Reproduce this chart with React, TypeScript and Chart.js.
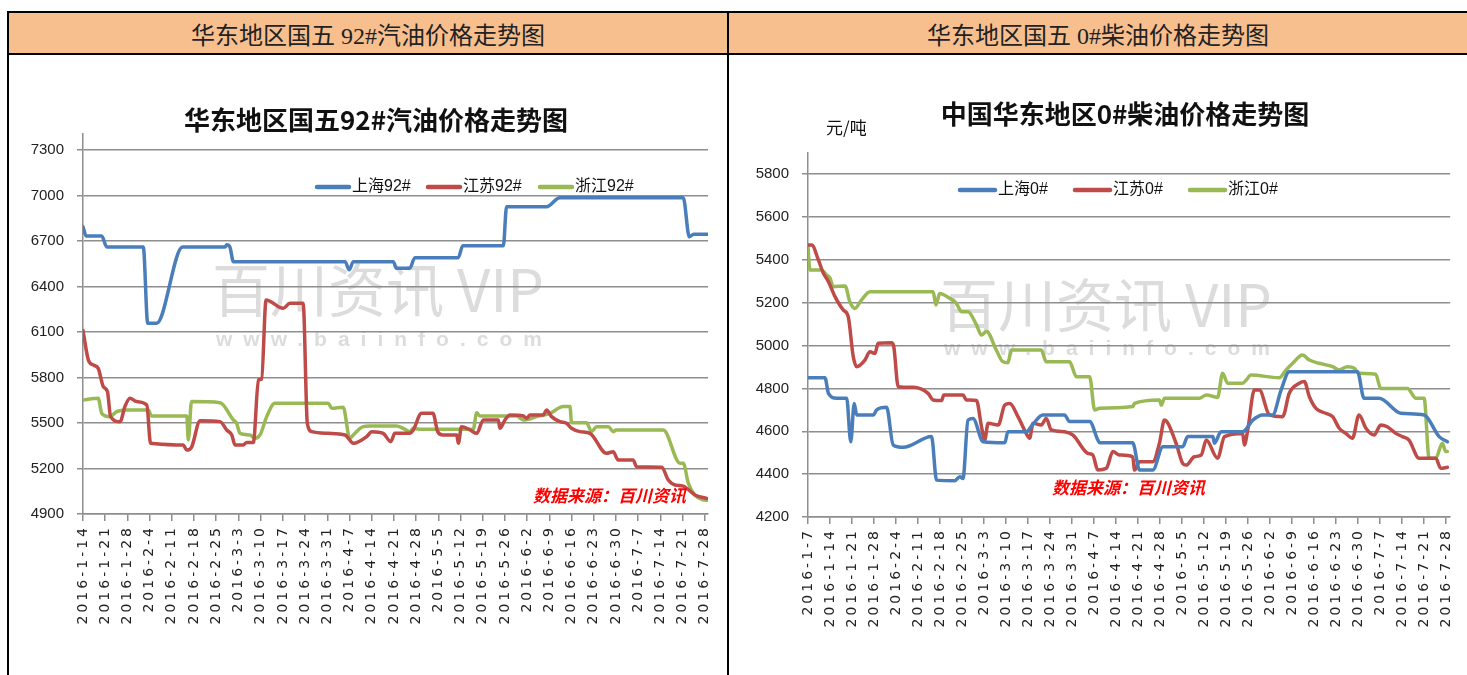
import React, { useEffect, useRef } from "react";
import { Chart, registerables } from "chart.js";

Chart.register(...registerables);

// ---------------- DATA ----------------
// Tick labels (one per week)
const gasolineWeeks = [
  "2016-1-14", "2016-1-21", "2016-1-28", "2016-2-4", "2016-2-11", "2016-2-18", "2016-2-25",
  "2016-3-3", "2016-3-10", "2016-3-17", "2016-3-24", "2016-3-31", "2016-4-7", "2016-4-14",
  "2016-4-21", "2016-4-28", "2016-5-5", "2016-5-12", "2016-5-19", "2016-5-26", "2016-6-2",
  "2016-6-9", "2016-6-16", "2016-6-23", "2016-6-30", "2016-7-7", "2016-7-14", "2016-7-21",
  "2016-7-28",
];
const dieselWeeks = [
  "2016-1-7", "2016-1-14", "2016-1-21", "2016-1-28", "2016-2-4", "2016-2-11", "2016-2-18",
  "2016-2-25", "2016-3-3", "2016-3-10", "2016-3-17", "2016-3-24", "2016-3-31", "2016-4-7",
  "2016-4-14", "2016-4-21", "2016-4-28", "2016-5-5", "2016-5-12", "2016-5-19", "2016-5-26",
  "2016-6-2", "2016-6-9", "2016-6-16", "2016-6-23", "2016-6-30", "2016-7-7", "2016-7-14",
  "2016-7-21", "2016-7-28",
];

// Series: [day offset from first tick date, price 元/吨]
const shanghai92: [number, number][] = [
  [0, 6794], [1, 6733], [5.9, 6733], [7.5, 6660], [19, 6660], [20.4, 6157], [23.2, 6157],
  [31.4, 6660], [44.8, 6660], [45.3, 6675], [46.3, 6660], [47.4, 6564], [82.6, 6564],
  [83.9, 6510], [85.2, 6564], [97.8, 6564], [98.8, 6520], [103, 6520], [104.6, 6590],
  [118.3, 6590], [119.7, 6669], [132.5, 6669], [133.5, 6926], [146.1, 6926], [150.3, 6985],
  [189.2, 6985], [191.1, 6728], [192.5, 6745], [197, 6745],
];
const jiangsu92: [number, number][] = [
  [0, 6110], [1.7, 5915], [3.3, 5882], [4.8, 5860], [6.4, 5740], [7.7, 5707], [8.7, 5542],
  [11.7, 5509], [13.2, 5608], [14.8, 5663], [16.9, 5641], [20.1, 5619], [21.3, 5366],
  [31.6, 5355], [32.7, 5322], [34.2, 5340], [36.9, 5515], [43.2, 5509], [45.3, 5454],
  [46.9, 5421], [47.9, 5355], [50.5, 5355], [51.6, 5372], [53.7, 5372], [55.3, 5784],
  [56.3, 5790], [57.7, 6311], [63.1, 6256], [65.2, 6289], [69.4, 6289], [70.7, 5498],
  [72.1, 5443], [77.3, 5432], [82.6, 5421], [85.2, 5366], [89.4, 5410], [91, 5443],
  [94.6, 5432], [97, 5377], [98.3, 5432], [103, 5432], [104.1, 5454], [106.7, 5564],
  [110.3, 5564], [111.8, 5443], [113.4, 5421], [117.8, 5421], [118.3, 5366], [119.3, 5476],
  [122, 5454], [124.1, 5432], [126.2, 5520], [130.9, 5520], [131.4, 5465], [133, 5520],
  [134.6, 5553], [138.8, 5546], [139.8, 5531], [140.9, 5553], [145.1, 5553], [146.1, 5586],
  [147.7, 5542], [150.3, 5509], [152.4, 5498], [154, 5465], [156.6, 5443], [159.8, 5432],
  [165, 5300], [167.1, 5311], [168.7, 5256], [173.4, 5256], [174.5, 5212], [182.4, 5208],
  [184.5, 5124], [186.6, 5091], [189.2, 5084], [192.9, 5025], [196.6, 5003],
];
const zhejiang92: [number, number][] = [
  [0, 5652], [4.8, 5663], [5.9, 5564], [8.5, 5542], [10.6, 5575], [13.8, 5586], [20.6, 5586],
  [21.6, 5546], [32.7, 5546], [33.2, 5388], [34.2, 5641], [43.2, 5634], [47.4, 5520],
  [48.4, 5498], [49.5, 5432], [52.6, 5421], [54.2, 5399], [55.8, 5421], [57.9, 5542],
  [60.5, 5630], [77.3, 5630], [78.4, 5597], [82, 5604], [84.1, 5399], [85.2, 5421],
  [88.3, 5476], [90.4, 5480], [98.8, 5480], [100.9, 5465], [103, 5443], [104.1, 5465],
  [106, 5459], [123, 5459], [124.1, 5568], [125.1, 5546], [136.7, 5546], [138.8, 5520],
  [143, 5542], [147.2, 5564], [151.4, 5608], [153.5, 5608], [154, 5502], [158.7, 5502],
  [160.3, 5443], [161.9, 5476], [165.6, 5476], [167.1, 5443], [168, 5454], [182.9, 5454],
  [188.2, 5234], [189.2, 5234], [190.8, 5103], [192.9, 5025], [195.5, 4993], [196.6, 4990],
];

const shanghai0: [number, number][] = [
  [0, 4850], [5.4, 4850], [6.5, 4777], [9.1, 4754], [12.3, 4754], [13.6, 4551], [14.7, 4730],
  [15.5, 4676], [20.8, 4676], [21.8, 4699], [25, 4712], [27.1, 4536], [30.3, 4525],
  [39.3, 4575], [40.9, 4372], [46.7, 4369], [48.3, 4388], [49.3, 4380], [50.9, 4652],
  [52.5, 4660], [55.7, 4551], [62.6, 4546], [63.6, 4598], [69.5, 4598], [71.6, 4634],
  [74.7, 4676], [81.6, 4676], [83.2, 4645], [89.6, 4645], [92.2, 4559], [92.8, 4546],
  [103.3, 4546], [105.5, 4419], [109.7, 4419], [112.9, 4528], [119.2, 4528], [120.8, 4575],
  [128.8, 4575], [129.3, 4544], [131.4, 4598], [138.3, 4598], [141.5, 4652], [144.6, 4676],
  [147.8, 4676], [150.5, 4792], [153.1, 4878], [174.8, 4878], [176.9, 4754], [181.7, 4754],
  [188.6, 4684], [196, 4676], [200.8, 4575], [203.4, 4551],
];
const jiangsu0: [number, number][] = [
  [0, 5469], [1.2, 5469], [3.3, 5399], [4.9, 5337], [6.5, 5298], [8.6, 5228], [11.2, 5166],
  [12.8, 5134], [14.4, 4948], [15.5, 4901], [18.1, 4932], [19.7, 4971], [21.3, 4963],
  [22.3, 5010], [26.6, 5013], [27.3, 4994], [28.7, 4808], [33.5, 4805], [38.2, 4777],
  [39.8, 4746], [42.5, 4743], [43.2, 4769], [49.3, 4769], [50.4, 4746], [53.6, 4743],
  [55.2, 4621], [56.2, 4559], [57.3, 4637], [60.5, 4629], [62.6, 4722], [64.2, 4730],
  [66.8, 4668], [70, 4575], [70.5, 4567], [71.6, 4637], [74.2, 4629], [75.8, 4660],
  [77.4, 4606], [81.6, 4598], [84.3, 4582], [89, 4497], [90.6, 4489], [92.2, 4419],
  [94.9, 4427], [97, 4505], [99.1, 4489], [103.3, 4481], [103.9, 4419], [105.5, 4458],
  [109.7, 4458], [111.8, 4544], [113.4, 4652], [117.1, 4544], [119.2, 4450], [120.3, 4442],
  [122.9, 4481], [125.1, 4489], [126.7, 4559], [130.3, 4474], [132.5, 4575], [138.3, 4590],
  [138.8, 4536], [139.9, 4606], [142, 4792], [143.6, 4792], [146.8, 4676], [151, 4668],
  [153.1, 4777], [156.3, 4824], [157.9, 4832], [159.5, 4761], [161.6, 4707], [164.7, 4684],
  [166.9, 4668], [169, 4614], [171.1, 4590], [173.2, 4567], [175.3, 4676], [177.5, 4614],
  [180.1, 4582], [182.2, 4629], [184.3, 4621], [187, 4590], [189.1, 4575], [191.2, 4559],
  [194.4, 4474], [199.7, 4474], [201.3, 4427], [203.4, 4432],
];
const zhejiang0: [number, number][] = [
  [0, 5461], [0.6, 5352], [4.3, 5352], [5.9, 5329], [7, 5314], [8, 5274], [11.8, 5278],
  [13.3, 5204], [14.9, 5173], [17, 5212], [19.7, 5251], [39.8, 5251], [40.7, 5189],
  [41.9, 5243], [45.1, 5220], [47.2, 5197], [48.8, 5158], [50.9, 5158], [53.6, 5096],
  [55.2, 5049], [56.8, 5065], [59.9, 4979], [62, 4924], [63.6, 4920], [64.7, 4979],
  [74.2, 4979], [75.8, 4924], [83.2, 4924], [85.4, 4854], [89.6, 4854], [91.2, 4699],
  [92.8, 4707], [103.3, 4715], [103.9, 4730], [111.8, 4746], [112.4, 4722], [113.4, 4754],
  [124.5, 4754], [126.7, 4769], [130.3, 4758], [131.9, 4870], [133.5, 4824], [138.3, 4824],
  [139.4, 4839], [140.9, 4862], [149.9, 4850], [152.1, 4886], [154.2, 4917], [157.3, 4956],
  [159.5, 4932], [162.6, 4917], [166.9, 4901], [169, 4886], [171.6, 4901], [173.8, 4894],
  [175.3, 4870], [180.6, 4866], [182.2, 4800], [190.7, 4800], [193.4, 4754], [196, 4754],
  [197.6, 4474], [199.7, 4474], [201.8, 4544], [202.9, 4505], [203.4, 4505],
];

const gasolineNames = ["上海92#", "江苏92#", "浙江92#"];
const dieselNames = ["上海0#", "江苏0#", "浙江0#"];
const gasolineYTicks = [4900, 7300, 300];
const dieselYTicks = [4200, 5800, 200];

// ---------------- STYLE ----------------
const BLUE = "#4A7EBB";
const RED = "#BE4B48";
const GREEN = "#98B954";
const GRID = "#8e8e8e";
const WATERMARK = "百川资讯 VIP";
const WATERMARK_URL = "www.baiinfo.com";
const SOURCE = "数据来源：百川资讯";

type Pt = [number, number];
interface Spec {
  left: number; top: number; width: number; height: number;
  area: { left: number; top: number; right: number; bottom: number };
  xMax: number;
  yTicks: number[];
  labels: string[];
  series: { label: string; color: string; data: Pt[] }[];
  title: string; titleX: number; titleY: number;
  unit?: string; unitX?: number; unitY?: number;
  legendX: number[]; legendY: number; legendSeg: number;
  wmX: number; wmY: number; wmUrlY: number;
  srcX: number; srcY: number;
  axisExt: number;
}

function decorPlugin(s: Spec) {
  return {
    id: "decor",
    beforeDraw(chart: any) {
      const ctx = chart.ctx;
      ctx.letterSpacing = "0px";
      ctx.save();
      ctx.fillStyle = "#dcdcdc";
      ctx.textBaseline = "middle";
      ctx.textAlign = "left";
      ctx.font = '58px "Noto Sans CJK SC", sans-serif';
      ctx.fillText(WATERMARK, s.wmX, s.wmY);
      ctx.font = 'bold 21px "Liberation Sans", sans-serif';
      ctx.letterSpacing = "11px";
      ctx.fillText(WATERMARK_URL, s.wmX + 4, s.wmUrlY);
      ctx.restore();
    },
    afterDatasetsDraw(chart: any) {
      const ctx = chart.ctx;
      const a = chart.chartArea;
      ctx.save();
      ctx.letterSpacing = "0px";
      const ax = Math.round(a.left - 0.75) + 0.75;
      ctx.strokeStyle = GRID;
      ctx.lineWidth = 1.5;
      ctx.beginPath();
      ctx.moveTo(ax, a.top - s.axisExt);
      ctx.lineTo(ax, a.top);
      ctx.stroke();

      ctx.fillStyle = "#111";
      ctx.textAlign = "center";
      ctx.textBaseline = "middle";
      ctx.font = 'bold 26px "Noto Sans CJK SC", sans-serif';
      ctx.fillText(s.title, s.titleX, s.titleY);
      if (s.unit) {
        ctx.textAlign = "left";
        ctx.font = '17px "Noto Sans CJK SC", sans-serif';
        ctx.fillText(s.unit, s.unitX, s.unitY);
      }
      chart.data.datasets.forEach((ds: any, i: number) => {
        const x = s.legendX[i];
        const y = s.legendY;
        ctx.strokeStyle = ds.borderColor;
        ctx.lineWidth = 4.5;
        ctx.lineCap = "round";
        ctx.beginPath();
        ctx.moveTo(x, y);
        ctx.lineTo(x + s.legendSeg, y);
        ctx.stroke();
        ctx.fillStyle = "#111";
        ctx.textAlign = "left";
        ctx.font = '16px "Liberation Sans", "Noto Sans CJK SC", sans-serif';
        ctx.fillText(ds.label, x + s.legendSeg + 3, y);
      });
      ctx.fillStyle = "#ff0000";
      ctx.textAlign = "left";
      ctx.font = 'italic bold 17px "Noto Sans CJK SC", sans-serif';
      ctx.fillText(SOURCE, s.srcX, s.srcY);
      ctx.restore();
      ctx.letterSpacing = "3px";
    },
    afterDraw(chart: any) {
      chart.ctx.letterSpacing = "0px";
    },
  };
}

function buildConfig(s: Spec): any {
  const a = s.area;
  return {
    type: "line",
    data: {
      datasets: s.series.map((ser) => ({
        label: ser.label,
        data: ser.data.map(([x, y]) => ({ x, y })),
        borderColor: ser.color,
        backgroundColor: ser.color,
        borderWidth: 3.5,
        pointRadius: 0,
        pointHoverRadius: 0,
        cubicInterpolationMode: "monotone",
        borderCapStyle: "round",
        borderJoinStyle: "round",
        fill: false,
      })),
    },
    options: {
      animation: false,
      responsive: false,
      events: [],
      layout: { padding: { left: 0, top: a.top, right: s.width - a.right, bottom: 0 } },
      plugins: {
        legend: { display: false },
        title: { display: false },
        tooltip: { enabled: false },
      },
      scales: {
        x: {
          type: "linear",
          min: 0,
          max: s.xMax,
          afterFit: (sc: any) => {
            sc.height = s.height - a.bottom;
          },
          afterBuildTicks: (sc: any) => {
            sc.ticks = s.labels.map((_, i) => ({ value: i * 7 }));
          },
          grid: {
            display: true,
            drawOnChartArea: false,
            drawTicks: true,
            tickLength: 7,
            color: GRID,
            lineWidth: 1.5,
          },
          border: { display: true, color: GRID, width: 1.5 },
          ticks: {
            z: 1,
            autoSkip: false,
            maxRotation: 90,
            minRotation: 90,
            padding: 4,
            color: "#222",
            font: { family: "DejaVu Sans", size: 14 },
            callback: (v: number) => s.labels[Math.round(v / 7)] ?? "",
          },
        },
        y: {
          min: s.yTicks[0],
          max: s.yTicks[1],
          afterFit: (sc: any) => {
            sc.width = a.left;
          },
          grid: { color: GRID, lineWidth: 1.5, tickLength: 6 },
          border: { display: true, color: GRID, width: 1.5 },
          ticks: {
            stepSize: s.yTicks[2],
            padding: 13,
            color: "#222",
            font: { family: "Liberation Sans", size: 15 },
            callback: (v: number) => String(v),
          },
        },
      },
    },
    plugins: [decorPlugin(s)],
  };
}

const gasolineSpec: Spec = {
  left: 9, top: 56, width: 717, height: 619,
  area: { left: 74, top: 94, right: 699, bottom: 458 },
  xMax: 197,
  yTicks: gasolineYTicks,
  labels: gasolineWeeks,
  series: [
    { label: gasolineNames[0], color: BLUE, data: shanghai92 },
    { label: gasolineNames[1], color: RED, data: jiangsu92 },
    { label: gasolineNames[2], color: GREEN, data: zhejiang92 },
  ],
  title: "华东地区国五92#汽油价格走势图", titleX: 367, titleY: 64,
  legendX: [308, 419, 531], legendY: 131, legendSeg: 32,
  wmX: 203, wmY: 234, wmUrlY: 284,
  srcX: 524, srcY: 440,
  axisExt: 17,
};

const dieselSpec: Spec = {
  left: 729, top: 56, width: 738, height: 619,
  area: { left: 79, top: 118, right: 722, bottom: 461 },
  xMax: 204.3,
  yTicks: dieselYTicks,
  labels: dieselWeeks,
  series: [
    { label: dieselNames[0], color: BLUE, data: shanghai0 },
    { label: dieselNames[1], color: RED, data: jiangsu0 },
    { label: dieselNames[2], color: GREEN, data: zhejiang0 },
  ],
  title: "中国华东地区0#柴油价格走势图", titleX: 396, titleY: 58,
  unit: "元/吨", unitX: 97, unitY: 72,
  legendX: [231, 346, 461], legendY: 134, legendSeg: 35,
  wmX: 211, wmY: 249, wmUrlY: 293,
  srcX: 323, srcY: 432,
  axisExt: 22,
};

function LineChart({ spec }: { spec: Spec }) {
  const ref = useRef<HTMLCanvasElement>(null);
  useEffect(() => {
    const chart = new Chart(ref.current as HTMLCanvasElement, buildConfig(spec));
    return () => chart.destroy();
  }, [spec]);
  return (
    <canvas
      ref={ref}
      width={spec.width}
      height={spec.height}
      style={{
        position: "absolute",
        left: spec.left,
        top: spec.top,
        width: spec.width,
        height: spec.height,
      }}
    />
  );
}

const headerFont = '"Liberation Serif", "Noto Sans CJK SC", serif';

export default function App() {
  return (
    <div
      style={{
        position: "absolute",
        left: 0,
        top: 0,
        width: 1467,
        height: 675,
        overflow: "hidden",
        background: "#fff",
      }}
    >
      {/* header fills */}
      <div style={{ position: "absolute", left: 9, top: 13, width: 718, height: 40, background: "#F8BF8E" }} />
      <div style={{ position: "absolute", left: 729, top: 13, width: 740, height: 40, background: "#F8BF8E" }} />
      {/* header texts */}
      <div
        style={{
          position: "absolute", left: 9, top: 13, width: 718, height: 40,
          display: "flex", alignItems: "center", justifyContent: "center",
          fontFamily: headerFont, fontSize: 24, color: "#222", whiteSpace: "pre",
        }}
      >
        华东地区国五 92#汽油价格走势图
      </div>
      <div
        style={{
          position: "absolute", left: 729, top: 13, width: 738, height: 40,
          display: "flex", alignItems: "center", justifyContent: "center",
          fontFamily: headerFont, fontSize: 24, color: "#222", whiteSpace: "pre",
        }}
      >
        华东地区国五 0#柴油价格走势图
      </div>
      {/* table rules */}
      <div style={{ position: "absolute", left: 7, top: 11, width: 1470, height: 2, background: "#000" }} />
      <div style={{ position: "absolute", left: 7, top: 53, width: 1470, height: 2, background: "#000" }} />
      <div style={{ position: "absolute", left: 7, top: 11, width: 2, height: 700, background: "#000" }} />
      <div style={{ position: "absolute", left: 727, top: 11, width: 2, height: 700, background: "#000" }} />

      <LineChart spec={gasolineSpec} />
      <LineChart spec={dieselSpec} />
    </div>
  );
}
